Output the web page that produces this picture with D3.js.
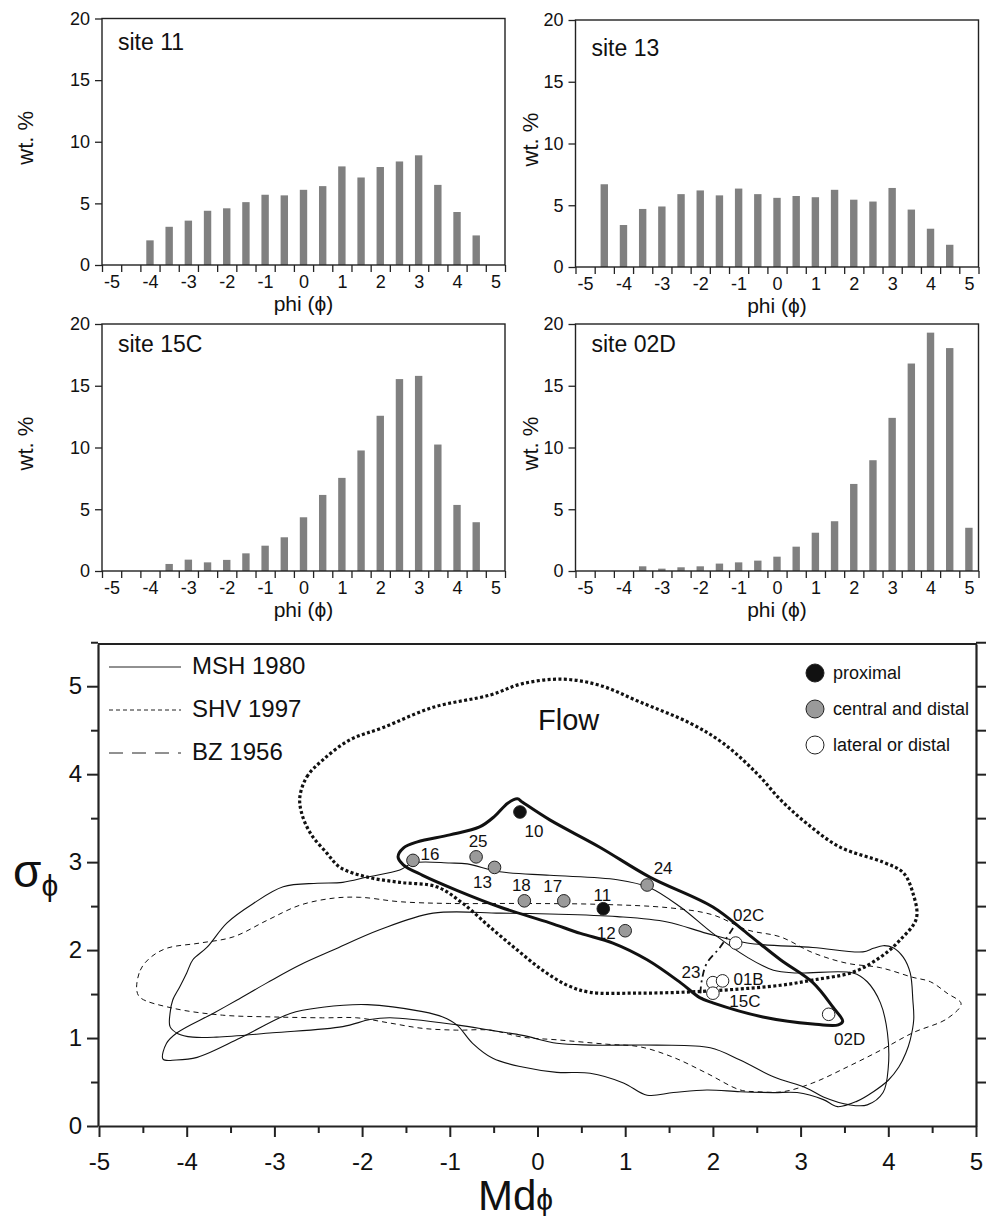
<!DOCTYPE html>
<html>
<head>
<meta charset="utf-8">
<script src="https://cdnjs.cloudflare.com/ajax/libs/d3/7.8.5/d3.min.js"></script>
<style>
  body { margin: 0; background: #fff; }
  svg { display: block; font-family: "Liberation Sans", Arial, sans-serif; }
  .axis path, .axis line { stroke: #222; }
  .axis text { fill: #111; }
</style>
</head>
<body>
<div id="chart"></div>
<script>
// ---- histogram data (wt. % per half-phi bin) ----
var phiBins = [-5, -4.5, -4, -3.5, -3, -2.5, -2, -1.5, -1, -0.5, 0, 0.5, 1, 1.5, 2, 2.5, 3, 3.5, 4, 4.5, 5];
var binEdges = [-5.25, -4.75, -4.25, -3.75, -3.25, -2.75, -2.25, -1.75, -1.25, -0.75, -0.25,
                0.25, 0.75, 1.25, 1.75, 2.25, 2.75, 3.25, 3.75, 4.25, 4.75, 5.25];
var phiLabels = [-5, -4, -3, -2, -1, 0, 1, 2, 3, 4, 5];
var wtTicks = [0, 5, 10, 15, 20];

var site11  = [0, 0, 2.0, 3.1, 3.6, 4.4, 4.6, 5.1, 5.7, 5.65, 6.1, 6.4, 8.0, 7.1, 7.95, 8.4, 8.9, 6.5, 4.3, 2.4, 0];
var site13  = [0, 6.7, 3.4, 4.7, 4.9, 5.9, 6.2, 5.8, 6.35, 5.9, 5.6, 5.75, 5.65, 6.25, 5.45, 5.3, 6.4, 4.65, 3.1, 1.8, 0];
var site15C = [0, 0, 0, 0.57, 0.92, 0.7, 0.9, 1.43, 2.05, 2.73, 4.35, 6.16, 7.54, 9.76, 12.57, 15.54, 15.8, 10.24, 5.35, 3.95, 0];
var site02D = [0, 0, 0, 0.38, 0.19, 0.3, 0.38, 0.6, 0.7, 0.84, 1.16, 1.97, 3.1, 4.03, 7.05, 8.97, 12.4, 16.8, 19.3, 18.05, 3.5];

// ---- scatter data (Md phi, sigma phi) ----
var sampleNames = ["10", "11", "16", "25", "13", "18", "17", "12", "24", "02C", "23", "01B", "15C", "02D"];
var sampleMd    = [-0.20, 0.75, -1.42, -0.70, -0.49, -0.15, 0.30, 1.00, 1.25, 2.26, 2.00, 2.11, 2.00, 3.32];
var sampleSd    = [3.57, 2.47, 3.02, 3.06, 2.94, 2.56, 2.56, 2.22, 2.74, 2.08, 1.63, 1.65, 1.51, 1.27];
var sampleType  = ["proximal", "proximal", "central", "central", "central", "central", "central", "central", "central",
                   "lateral", "lateral", "lateral", "lateral", "lateral"];
var mdTicks = [-5, -4, -3, -2, -1, 0, 1, 2, 3, 4, 5];
var sdTicks = [0, 1, 2, 3, 4, 5];

// ---- field outlines [Md phi, sigma phi] ----
var flowField = [[-2.71, 3.74], [-2.63, 3.97], [-2.45, 4.16], [-2.14, 4.39], [-1.76, 4.53], [-1.19, 4.76],
  [-0.54, 4.90], [-0.17, 5.03], [0.29, 5.08], [0.71, 5.01], [1.17, 4.82], [1.74, 4.58], [2.12, 4.35],
  [2.50, 4.01], [2.77, 3.71], [3.07, 3.44], [3.45, 3.17], [3.94, 3.00], [4.17, 2.88], [4.28, 2.65],
  [4.32, 2.36], [4.13, 2.11], [3.91, 1.92], [3.60, 1.75], [3.14, 1.66], [2.77, 1.60], [2.20, 1.55],
  [1.63, 1.52], [1.09, 1.51], [0.60, 1.52], [0.34, 1.60], [0.06, 1.77], [-0.23, 2.00], [-0.54, 2.26],
  [-0.85, 2.53], [-1.15, 2.72], [-1.57, 2.77], [-1.94, 2.83], [-2.25, 2.94], [-2.40, 3.10],
  [-2.59, 3.33], [-2.69, 3.56]];

var flowCore = [[-0.23, 3.72], [-0.17, 3.68], [0.14, 3.48], [0.71, 3.17], [1.28, 2.83], [2.00, 2.49],
  [2.39, 2.19], [2.77, 1.89], [3.14, 1.63], [3.37, 1.35], [3.48, 1.19], [3.43, 1.15], [3.14, 1.16],
  [2.57, 1.24], [2.00, 1.40], [1.85, 1.46], [1.63, 1.63], [1.25, 1.89], [0.86, 2.08], [0.49, 2.19],
  [0.14, 2.31], [-0.43, 2.49], [-0.92, 2.68], [-1.31, 2.85], [-1.53, 2.97], [-1.59, 3.06],
  [-1.53, 3.16], [-1.37, 3.23], [-1.00, 3.31], [-0.66, 3.40], [-0.49, 3.52], [-0.34, 3.67]];

var mshUpper = [[-4.19, 1.13], [-4.19, 1.28], [-4.16, 1.43], [-4.08, 1.58], [-4.00, 1.74], [-3.93, 1.89],
  [-3.77, 2.03], [-3.54, 2.31], [-3.24, 2.53], [-2.90, 2.72], [-2.51, 2.76], [-2.22, 2.77], [-1.94, 2.83],
  [-1.57, 2.91], [-1.42, 2.99], [-1.00, 2.99], [-0.80, 2.98], [-0.43, 2.89], [0.14, 2.85], [0.91, 2.80],
  [1.28, 2.71], [1.63, 2.49], [2.00, 2.19], [2.39, 1.92], [2.69, 1.77], [2.96, 1.74], [3.60, 1.74],
  [3.76, 1.64], [3.91, 1.40], [3.99, 1.06], [4.00, 0.67], [3.94, 0.38], [3.76, 0.24], [3.56, 0.24],
  [3.26, 0.33], [3.07, 0.43], [2.69, 0.56], [2.31, 0.75], [1.97, 0.89], [1.36, 0.92], [0.60, 0.92],
  [0.22, 0.94], [-0.17, 1.03], [-0.54, 1.09], [-0.92, 1.15], [-1.68, 1.23], [-1.91, 1.21], [-2.22, 1.13],
  [-3.02, 1.06], [-3.66, 1.01], [-3.93, 1.01], [-4.10, 1.05]];

var mshLower = [[-4.27, 0.76], [-4.23, 0.94], [-4.11, 1.06], [-3.70, 1.28], [-3.43, 1.43], [-3.08, 1.63],
  [-2.71, 1.83], [-2.33, 2.00], [-1.80, 2.23], [-1.19, 2.42], [-0.43, 2.42], [0.14, 2.41], [0.91, 2.38],
  [1.48, 2.32], [1.93, 2.19], [2.39, 2.08], [3.14, 2.03], [3.71, 1.98], [3.83, 2.02], [3.94, 2.05],
  [4.05, 2.03], [4.17, 1.92], [4.25, 1.74], [4.28, 1.43], [4.29, 1.21], [4.25, 0.98], [4.20, 0.83],
  [4.12, 0.67], [4.00, 0.52], [3.83, 0.39], [3.64, 0.28], [3.42, 0.22], [3.26, 0.30], [2.96, 0.38],
  [2.69, 0.38], [2.31, 0.39], [1.93, 0.41], [1.55, 0.38], [1.25, 0.35], [0.98, 0.49], [0.60, 0.60],
  [0.22, 0.61], [-0.17, 0.67], [-0.51, 0.77], [-0.74, 0.94], [-0.92, 1.15], [-1.08, 1.24], [-1.31, 1.30],
  [-1.94, 1.38], [-2.45, 1.35], [-2.82, 1.28], [-3.39, 1.00], [-3.88, 0.78], [-4.12, 0.75]];

var shvField = [[-4.57, 1.55], [-4.53, 1.77], [-4.42, 1.91], [-4.23, 2.02], [-3.85, 2.08], [-3.47, 2.15],
  [-3.08, 2.34], [-2.71, 2.51], [-2.33, 2.59], [-2.02, 2.60], [-1.57, 2.55], [-1.00, 2.53], [-0.23, 2.53],
  [0.71, 2.52], [1.51, 2.48], [2.00, 2.40], [2.39, 2.23], [2.77, 2.15], [3.14, 1.97], [3.53, 1.85],
  [3.91, 1.80], [4.28, 1.69], [4.48, 1.64], [4.67, 1.51], [4.83, 1.39], [4.67, 1.22], [4.28, 1.06],
  [3.91, 0.86], [3.53, 0.67], [3.14, 0.49], [2.80, 0.39], [2.50, 0.39], [2.31, 0.41], [1.93, 0.60],
  [1.55, 0.78], [1.17, 0.90], [0.79, 0.93], [0.22, 0.98], [-0.17, 1.01], [-0.54, 1.09], [-0.92, 1.09],
  [-1.31, 1.11], [-1.68, 1.17], [-2.06, 1.23], [-2.45, 1.23], [-3.02, 1.24], [-3.59, 1.26],
  [-4.16, 1.34], [-4.53, 1.46]];

var bzArc = [[2.23, 2.25], [2.08, 2.03], [1.93, 1.85], [1.88, 1.69], [1.86, 1.51], [1.88, 1.43]];

// ---- layout ----
var histWidth = 403;
var panels = [
  { title: "site 11",  values: site11,  x: 102,   y: 18.5, h: 246.5, titleY: 31.5 },
  { title: "site 13",  values: site13,  x: 575.5, y: 20,   h: 247,   titleY: 36 },
  { title: "site 15C", values: site15C, x: 102,   y: 324,  h: 247,   titleY: 28 },
  { title: "site 02D", values: site02D, x: 575.5, y: 324,  h: 247,   titleY: 28 }
];

var svg = d3.select("#chart")
  .append("svg")
  .attr("width", 990)
  .attr("height", 1218);

// ---------- histograms ----------
panels.forEach(function (p, k) {
  var g = svg.append("g").attr("transform", `translate(${p.x}, ${p.y})`);
  var x = d3.scaleLinear().domain([-5.25, 5.25]).range([0, histWidth]);
  var y = d3.scaleLinear().domain([0, 20]).range([p.h, 0]);

  var bars = phiBins.map(function (phi, i) { return { phi: phi, v: p.values[i] }; })
    .filter(function (d) { return d.v > 0; });

  g.selectAll(".bar")
    .data(bars)
    .enter()
    .append("rect")
    .attr("class", "bar")
    .attr("x", d => x(d.phi) - 3.7)
    .attr("width", 7.4)
    .attr("y", d => y(d.v))
    .attr("height", d => y(0) - y(d.v))
    .attr("fill", "#808080");

  // frame
  g.append("rect")
    .attr("width", histWidth)
    .attr("height", p.h)
    .attr("fill", "none")
    .attr("stroke", "#222")
    .attr("stroke-width", 1.4);

  // x ticks sit on the bin edges, labels on whole phi
  var xTicks = g.append("g")
    .attr("class", "axis")
    .attr("transform", `translate(0, ${p.h})`)
    .call(d3.axisBottom(x).tickValues(binEdges).tickSize(7).tickSizeOuter(0).tickFormat(""));
  xTicks.select(".domain").remove();
  xTicks.selectAll("line").attr("stroke-width", 1.3);

  var xLabels = g.append("g")
    .attr("class", "axis")
    .attr("transform", `translate(0, ${p.h})`)
    .call(d3.axisBottom(x).tickValues(phiLabels).tickSize(0).tickPadding(10).tickFormat(d => String(d)));
  xLabels.select(".domain").remove();
  xLabels.selectAll("text").attr("font-size", 18);

  var yAxis = g.append("g")
    .attr("class", "axis")
    .call(d3.axisLeft(y).tickValues(wtTicks).tickSize(7).tickSizeOuter(0).tickPadding(5).tickFormat(d => String(d)));
  yAxis.select(".domain").remove();
  yAxis.selectAll("line").attr("stroke-width", 1.3);
  yAxis.selectAll("text").attr("font-size", 18);

  g.append("text")
    .attr("x", 16)
    .attr("y", p.titleY)
    .attr("font-size", 23)
    .attr("fill", "#111")
    .text(p.title);

  var left = (k % 2 === 0);
  g.append("text")
    .attr("transform", `translate(${left ? -69 : -37.5}, ${p.h / 2 - 4}) rotate(-90)`)
    .attr("text-anchor", "middle")
    .attr("font-size", 22)
    .attr("fill", "#111")
    .text("wt. %");

  g.append("text")
    .attr("x", histWidth / 2)
    .attr("y", p.h + 46)
    .attr("text-anchor", "middle")
    .attr("font-size", 21)
    .attr("fill", "#111")
    .text("phi (\u03D5)");
});

// ---------- sorting diagram ----------
var mx = d3.scaleLinear().domain([-5, 5]).range([99, 976]);
var my = d3.scaleLinear().domain([0, 5.48]).range([1126, 644]);

var closedLine = d3.line()
  .x(d => mx(d[0]))
  .y(d => my(d[1]))
  .curve(d3.curveCatmullRomClosed.alpha(0.5));

var openLine = d3.line()
  .x(d => mx(d[0]))
  .y(d => my(d[1]))
  .curve(d3.curveCatmullRom.alpha(0.5));

var fields = svg.append("g").attr("fill", "none").attr("stroke", "#111");

fields.append("path").attr("d", closedLine(shvField))
  .attr("stroke-width", 1).attr("stroke-dasharray", "5,4");
fields.append("path").attr("d", closedLine(mshUpper)).attr("stroke-width", 1.1);
fields.append("path").attr("d", closedLine(mshLower)).attr("stroke-width", 1.1);
fields.append("path").attr("d", closedLine(flowField))
  .attr("stroke-width", 3.2).attr("stroke-dasharray", "3,2.4");
fields.append("path").attr("d", closedLine(flowCore))
  .attr("stroke-width", 3).attr("stroke-linejoin", "round");
fields.append("path").attr("d", openLine(bzArc))
  .attr("stroke-width", 1.8).attr("stroke-dasharray", "7,4,2,4");

// axes
var majorX = d3.axisBottom(mx).tickValues(mdTicks).tickSize(11).tickSizeOuter(0).tickPadding(16).tickFormat(d => String(d));
var minorX = d3.axisBottom(mx).tickValues(mdTicks.slice(0, -1).map(d => d + 0.5)).tickSize(7).tickSizeOuter(0).tickFormat("");
var majorY = d3.axisLeft(my).tickValues(sdTicks).tickSize(11).tickSizeOuter(0).tickPadding(5).tickFormat(d => String(d));
var minorY = d3.axisLeft(my).tickValues(sdTicks.map(d => d + 0.5)).tickSize(7).tickSizeOuter(0).tickFormat("");
var rightY = d3.axisRight(my).tickValues(sdTicks.map(d => d + 0.5).concat(sdTicks.slice(1))).tickSize(10).tickSizeOuter(0).tickFormat("");

function styleAxis(sel, keepDomain) {
  sel.attr("class", "axis");
  if (!keepDomain) sel.select(".domain").remove();
  sel.select(".domain").attr("stroke-width", 2.2);
  sel.selectAll("line").attr("stroke-width", 2);
  sel.selectAll("text").attr("font-size", 24);
}

styleAxis(svg.append("g").attr("transform", "translate(0, 1126)").call(majorX), true);
styleAxis(svg.append("g").attr("transform", "translate(0, 1126)").call(minorX), false);
styleAxis(svg.append("g").attr("transform", "translate(98, 0)").call(majorY), true);
styleAxis(svg.append("g").attr("transform", "translate(98, 0)").call(minorY), false);
styleAxis(svg.append("g").attr("transform", "translate(976, 0)").call(rightY), true);

svg.append("line")
  .attr("x1", 98).attr("x2", 977)
  .attr("y1", 644).attr("y2", 644)
  .attr("stroke", "#222").attr("stroke-width", 2.2);

// axis titles
var sdTitle = svg.append("text").attr("x", 13).attr("y", 887).attr("fill", "#111");
sdTitle.append("tspan").attr("font-size", 46).text("\u03C3");
sdTitle.append("tspan").attr("font-size", 30).attr("dy", 9).text("\u03D5");

var mdTitle = svg.append("text").attr("x", 478).attr("y", 1210).attr("fill", "#111");
mdTitle.append("tspan").attr("font-size", 42).text("Md");
mdTitle.append("tspan").attr("font-size", 30).text("\u03D5");

// line legend
var lineLegend = [
  { label: "MSH 1980", dash: null, y: 667 },
  { label: "SHV 1997", dash: "4,3", y: 710 },
  { label: "BZ 1956", dash: "14,9", y: 753 }
];
lineLegend.forEach(function (d) {
  svg.append("line")
    .attr("x1", 109).attr("x2", 181)
    .attr("y1", d.y).attr("y2", d.y)
    .attr("stroke", "#222").attr("stroke-width", 1)
    .attr("stroke-dasharray", d.dash);
  svg.append("text")
    .attr("x", 192).attr("y", d.y + 7)
    .attr("font-size", 24).attr("fill", "#111")
    .text(d.label);
});

// symbol legend
var typeFill = { proximal: "#111", central: "#9a9a9a", lateral: "#fff" };
var typeLegend = [
  { type: "proximal", label: "proximal", y: 673 },
  { type: "central", label: "central and distal", y: 709 },
  { type: "lateral", label: "lateral or distal", y: 745 }
];
typeLegend.forEach(function (d) {
  svg.append("circle")
    .attr("cx", 815).attr("cy", d.y).attr("r", 9)
    .attr("fill", typeFill[d.type]).attr("stroke", "#222").attr("stroke-width", 1);
  svg.append("text")
    .attr("x", 833).attr("y", d.y + 6)
    .attr("font-size", 18).attr("fill", "#111")
    .text(d.label);
});

svg.append("text")
  .attr("x", 538).attr("y", 730)
  .attr("font-size", 29).attr("fill", "#111")
  .text("Flow");

// samples
var labelOffset = {
  "10": [14, 19], "16": [17, -6], "25": [2, -16], "13": [-12, 15], "18": [-3, -16], "17": [-11, -15],
  "11": [-1, -14], "12": [-19, 2], "24": [16, -17], "02C": [13, -28], "23": [-22, -11],
  "01B": [26, -2], "15C": [32, 8], "02D": [21, 25]
};
var samples = sampleNames.map(function (n, i) {
  return { name: n, md: sampleMd[i], sd: sampleSd[i], type: sampleType[i] };
});

var pts = svg.append("g");
pts.selectAll("circle")
  .data(samples)
  .enter()
  .append("circle")
  .attr("cx", d => mx(d.md))
  .attr("cy", d => my(d.sd))
  .attr("r", 6.3)
  .attr("fill", d => typeFill[d.type])
  .attr("stroke", "#222")
  .attr("stroke-width", 1);

pts.selectAll("text")
  .data(samples)
  .enter()
  .append("text")
  .attr("x", d => mx(d.md) + labelOffset[d.name][0])
  .attr("y", d => my(d.sd) + labelOffset[d.name][1])
  .attr("dy", "0.35em")
  .attr("text-anchor", "middle")
  .attr("font-size", 17)
  .attr("fill", "#111")
  .text(d => d.name);
</script>
</body>
</html>
